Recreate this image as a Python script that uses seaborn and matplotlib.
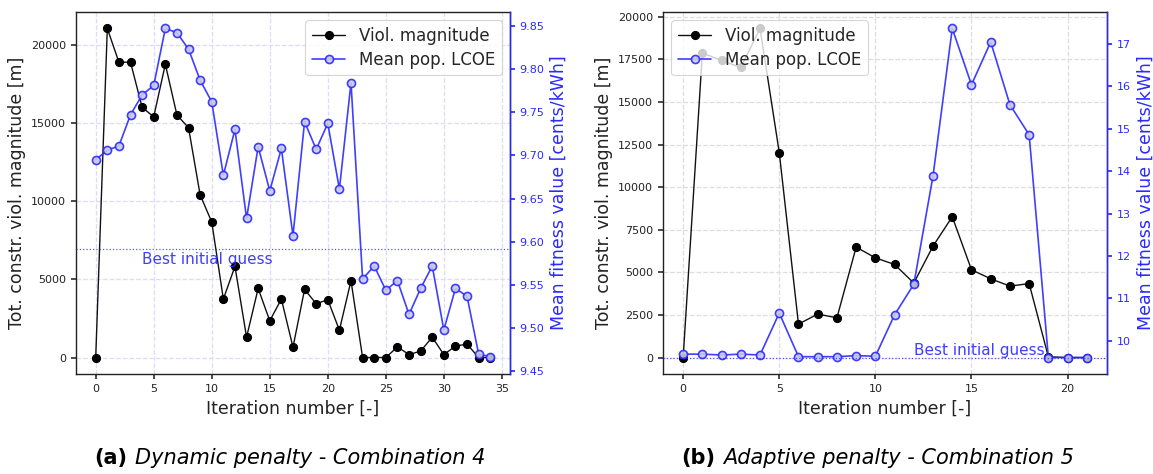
import numpy as np
import pandas as pd
import matplotlib
matplotlib.use("Agg")
import matplotlib.pyplot as plt
import seaborn as sns

# ---- (a) Dynamic penalty - Combination 4 ----
iters_a = list(range(35))
viol_a = [0, 21050, 18890, 18890, 16000, 15400, 18760, 15510, 14700, 10400,
          8670, 3740, 5830, 1300, 4420, 2350, 3740, 660, 4360, 3440,
          3700, 1750, 4910, 0, 0, 0, 680, 190, 410, 1300,
          190, 730, 860, 0, 0]
lcoe_a = [9.695, 9.706, 9.711, 9.747, 9.770, 9.781, 9.847, 9.842, 9.823, 9.787,
          9.762, 9.677, 9.730, 9.627, 9.710, 9.659, 9.708, 9.607, 9.739, 9.707,
          9.737, 9.661, 9.784, 9.557, 9.572, 9.544, 9.555, 9.516, 9.546, 9.572,
          9.498, 9.546, 9.537, 9.470, 9.467]
best_a = 9.592

# ---- (b) Adaptive penalty - Combination 5 ----
iters_b = list(range(22))
viol_b = [0, 17870, 17430, 17020, 19310, 12030, 1960, 2550, 2330, 6480,
          5850, 5460, 4370, 6540, 8260, 5150, 4620, 4190, 4340, 40,
          0, 0]
lcoe_b = [9.68, 9.68, 9.66, 9.68, 9.66, 10.65, 9.62, 9.62, 9.62, 9.645,
          9.63, 10.61, 11.33, 13.89, 17.37, 16.04, 17.05, 15.57, 14.86, 9.60,
          9.60, 9.60]
best_b = 9.60

labels_legend = ["Viol. magnitude", "Mean pop. LCOE"]
caption_tags = ["(a)", "(b)"]
caption_texts = ["Dynamic penalty - Combination 4", "Adaptive penalty - Combination 5"]

sns.set_theme(style="ticks")
plt.rcParams["font.family"] = ["DejaVu Sans"]

fig = plt.figure(figsize=(11.53, 4.74), dpi=100)
ax_a = fig.add_axes([0.0659, 0.211, 0.3764, 0.7637])
ax_b = fig.add_axes([0.5750, 0.211, 0.3851, 0.7637])

BLUE = "#2a2aff"
FACE = "#c9c9e4"


def draw_panel(ax, iters, viol, lcoe, best, grid_color, legend_loc,
               text_x, text_va, text_dy):
    df = pd.DataFrame({"it": iters, "viol": viol, "lcoe": lcoe})
    sns.lineplot(data=df, x="it", y="viol", ax=ax, sort=False, color="#111111",
                 lw=1.0, marker="o", markersize=5.8, markerfacecolor="black",
                 markeredgecolor="black", markeredgewidth=0.8, label=labels_legend[0],
                 legend=False)
    ax.grid(True, linestyle="--", color=grid_color, lw=0.9)
    ax.set_axisbelow(True)
    ax.set_xlabel("Iteration number [-]", fontsize=12.5, color="#222222")
    ax.set_ylabel("Tot. constr. viol. magnitude [m]", fontsize=12.5, color="#222222")
    ax.tick_params(axis="both", labelsize=8, length=3.5, color="#333333", labelcolor="#222222")
    for s in ax.spines.values():
        s.set_color("#222222")
        s.set_linewidth(1.0)

    ax2 = ax.twinx()
    sns.lineplot(data=df, x="it", y="lcoe", ax=ax2, sort=False, color=BLUE,
                 lw=1.2, marker="o", markersize=5.8, markerfacecolor=FACE,
                 markeredgecolor=BLUE, markeredgewidth=1.2, label=labels_legend[1],
                 legend=False, alpha=0.9)
    ax2.axhline(best, color=BLUE, ls=":", lw=0.9, alpha=0.8)
    ax2.text(text_x, best + text_dy, "Best initial guess", color=BLUE,
             fontsize=11, va=text_va, ha="left", alpha=0.9)
    ax2.set_ylabel("Mean fitness value [cents/kWh]", fontsize=12.5, color=BLUE)
    ax2.tick_params(axis="y", labelsize=8, length=3.5, color=BLUE, labelcolor=BLUE)
    ax2.spines["right"].set_color(BLUE)
    ax2.spines["right"].set_linewidth(1.0)
    for k in ("top", "left", "bottom"):
        ax2.spines[k].set_visible(False)

    handles = ax.get_lines()[:1] + ax2.get_lines()[:1]
    leg = ax2.legend(handles, labels_legend, loc=legend_loc, fontsize=12,
                     frameon=True, framealpha=0.8, edgecolor="#cccccc",
                     handlelength=2.0, borderpad=0.4, labelspacing=0.35)
    leg.get_frame().set_linewidth(0.8)
    return ax2


ax2_a = draw_panel(ax_a, iters_a, viol_a, lcoe_a, best_a, "#dcdcf8", "upper right",
                   4.0, "top", -0.004)
ax2_a.set_yticks(np.arange(9.45, 9.851, 0.05))
ax2_a.yaxis.set_major_formatter(matplotlib.ticker.FormatStrFormatter("%.2f"))
ax2_a.set_ylim(9.447, 9.866)

ax2_b = draw_panel(ax_b, iters_b, viol_b, lcoe_b, best_b, "#dddddd", "upper left",
                   12.0, "bottom", 0.0)
ax_a.set_xticks(range(0, 36, 5))
ax_b.set_xticks(range(0, 21, 5))
ax_b.set_yticks(np.arange(0, 20001, 2500))

# Captions under each panel
cap_y = 0.034
for tag, txt, xr in zip(caption_tags, caption_texts, [127 / 1153, 715 / 1153]):
    fig.text(xr, cap_y, tag, fontsize=15, fontweight="bold", ha="right", va="center",
             color="black")
    fig.text(xr + 8 / 1153, cap_y, txt, fontsize=15, fontstyle="italic", ha="left",
             va="center", color="black")

fig.savefig("out.png", dpi=100)
